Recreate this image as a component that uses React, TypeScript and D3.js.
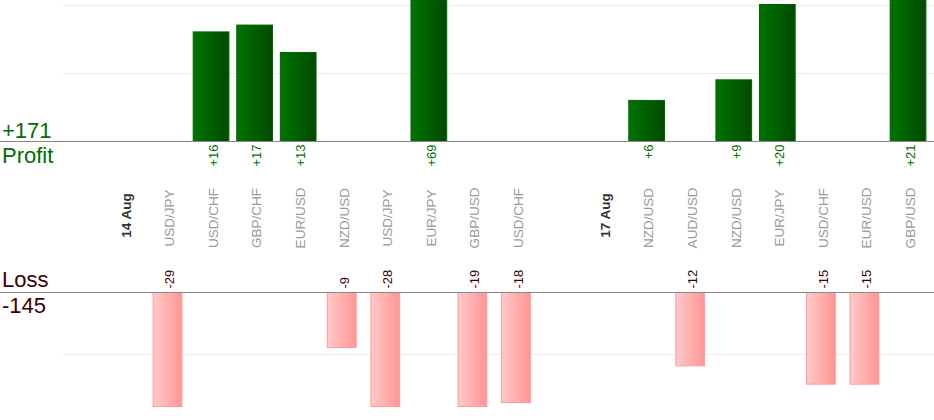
import React from "react";
import * as d3 from "d3";

const slotLabels: string[] = [
  "", "14 Aug", "USD/JPY", "USD/CHF", "GBP/CHF", "EUR/USD", "NZD/USD", "USD/JPY",
  "EUR/JPY", "GBP/USD", "USD/CHF", "", "17 Aug", "NZD/USD", "AUD/USD", "NZD/USD",
  "EUR/JPY", "USD/CHF", "EUR/USD", "GBP/USD",
];
const dateSlots: boolean[] = slotLabels.map((s) => /Aug/.test(s));
const profitValues: (number | null)[] = [
  null, null, null, 16, 17, 13, null, null, 69, null, null, null, null, 6, null, 9, 20, null, null, 21,
];
const lossValues: (number | null)[] = [
  null, null, -29, null, null, null, -9, -28, null, -19, -18, null, null, null, -12, null, null, -15, -15, null,
];
const profitTicks = [10, 20];
const lossTicks = [10];

const W = 934;
const H = 420;
const FONT = "Arial, 'Liberation Sans', Helvetica, sans-serif";

export default function App() {
  const totalProfit = d3.sum(profitValues, (v) => v ?? 0);
  const totalLoss = d3.sum(lossValues, (v) => v ?? 0);

  const x = d3
    .scaleBand<number>()
    .domain(slotLabels.map((_, i) => i))
    .range([58.6, 929.8])
    .padding(0);
  const step = x.step();
  const cx = (i: number) => (x(i) ?? 0) + step / 2;

  const profitBase = 141.5;
  const lossBase = 292.5;
  const yP = d3.scaleLinear().domain([0, 20.66]).range([profitBase, 0]).clamp(true);
  const yL = d3.scaleLinear().domain([0, 18.65]).range([lossBase, 406.5]).clamp(true);

  const pw = step * 0.82;
  const lw = step * 0.66;
  const gridX0 = 63;

  return (
    <svg
      width={W}
      height={H}
      style={{ position: "absolute", left: 0, top: 0, fontFamily: FONT }}
    >
      <defs>
        <linearGradient id="gP" x1="0" x2="1" y1="0" y2="0">
          <stop offset="0" stopColor="#007400" />
          <stop offset="1" stopColor="#004a00" />
        </linearGradient>
        <linearGradient id="gL" x1="0" x2="1" y1="0" y2="0">
          <stop offset="0" stopColor="#ffc9c9" />
          <stop offset="1" stopColor="#ff9595" />
        </linearGradient>
      </defs>

      {/* gridlines */}
      {profitTicks.map((t) => (
        <line key={"pg" + t} x1={gridX0} x2={W} y1={Math.round(yP(t)) + 0.5} y2={Math.round(yP(t)) + 0.5} stroke="#ebebeb" />
      ))}
      {lossTicks.map((t) => (
        <line key={"lg" + t} x1={gridX0} x2={W} y1={Math.round(yL(t)) + 0.5} y2={Math.round(yL(t)) + 0.5} stroke="#ebebeb" />
      ))}

      {/* profit bars */}
      {profitValues.map((v, i) =>
        v == null ? null : (
          <rect
            key={"p" + i}
            x={cx(i) - pw / 2}
            y={yP(v)}
            width={pw}
            height={profitBase - yP(v)}
            fill="url(#gP)"
            stroke="#006400"
            strokeWidth={1}
          />
        )
      )}
      {/* loss bars */}
      {lossValues.map((v, i) =>
        v == null ? null : (
          <rect
            key={"l" + i}
            x={cx(i) - lw / 2}
            y={lossBase}
            width={lw}
            height={yL(-v) - lossBase}
            fill="url(#gL)"
            stroke="#ff9a9a"
            strokeWidth={1}
          />
        )
      )}

      {/* axes */}
      <line x1={0} x2={W} y1={profitBase} y2={profitBase} stroke="#888" />
      <line x1={0} x2={W} y1={lossBase} y2={lossBase} stroke="#888" />

      {/* profit value labels */}
      {profitValues.map((v, i) =>
        v == null ? null : (
          <text
            key={"pt" + i}
            transform={`translate(${cx(i) + 2.3},${profitBase + 3}) rotate(-90)`}
            textAnchor="end"
            dominantBaseline="central"
            fontSize={13}
            fill="#007000"
          >
            {"+" + v}
          </text>
        )
      )}
      {/* loss value labels */}
      {lossValues.map((v, i) =>
        v == null ? null : (
          <text
            key={"lt" + i}
            transform={`translate(${cx(i) + 2.3},${lossBase - 4}) rotate(-90)`}
            textAnchor="start"
            dominantBaseline="central"
            fontSize={13}
            fill="#3d0000"
          >
            {String(v)}
          </text>
        )
      )}

      {/* category labels */}
      {slotLabels.map((s, i) =>
        s === "" ? null : (
          <text
            key={"c" + i}
            transform={`translate(${cx(i) + 2.3},${dateSlots[i] ? 215.5 : 218}) rotate(-90)`}
            textAnchor="middle"
            dominantBaseline="central"
            fontSize={13.5}
            fontWeight={dateSlots[i] ? "bold" : "normal"}
            fill={dateSlots[i] ? "#333" : "#999"}
          >
            {s}
          </text>
        )
      )}

      {/* side labels */}
      <text x={2} y={138} fontSize={22} fill="#006e00">{"+" + totalProfit}</text>
      <text x={2} y={162.5} fontSize={22} fill="#006e00">Profit</text>
      <text x={2} y={286.5} fontSize={22} fill="#3d0000">Loss</text>
      <text x={2} y={313} fontSize={22} fill="#3d0000">{String(totalLoss)}</text>
    </svg>
  );
}
